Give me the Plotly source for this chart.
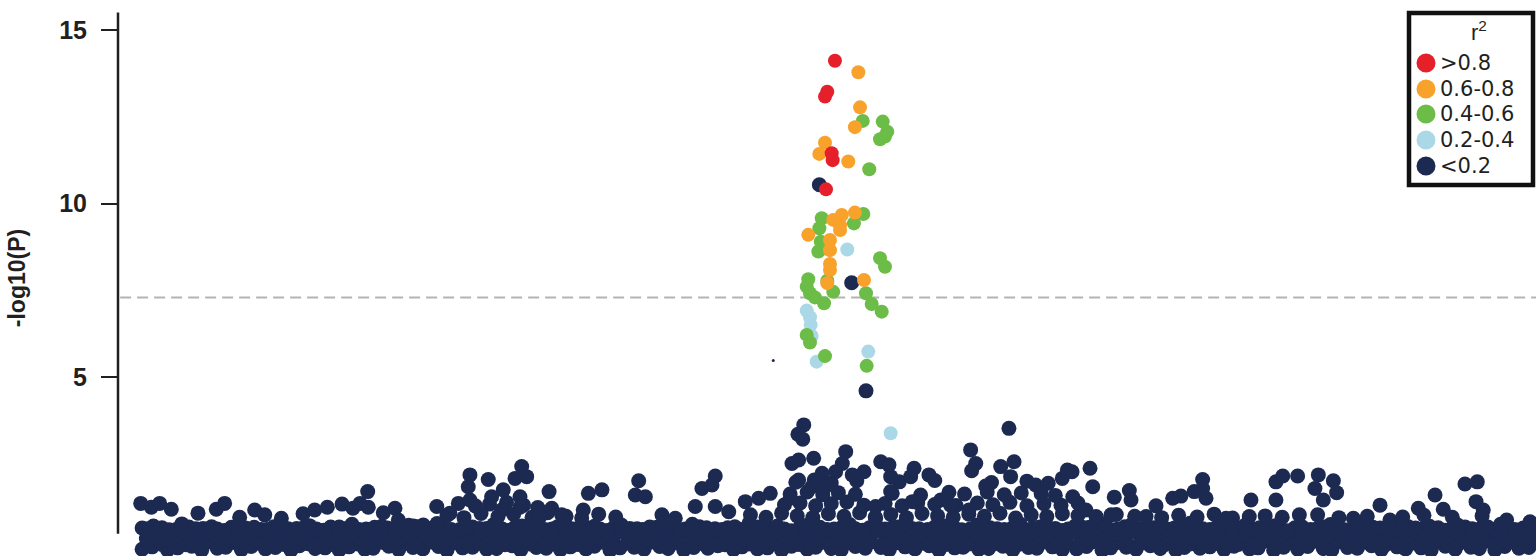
import plotly.graph_objects as go

# Position (kb within the plotted region) and -log10(P) values
# --- r2 < 0.2 : dense background band, row by row ---
navy_band_low = [(17,.05),(24,.12),(35,.03),(42,.09),(52,.14),(59,.02),(70,.08),(76,.11),(87,.04),(94,.13),(104,.06),(111,.10),(122,.02),(128,.15),(139,.07),(146,.09),(156,.03),(163,.12),(174,.05),(180,.08),(191,.14),(198,.04),(208,.10),(215,.06),(226,.13),(232,.02),(243,.09),(250,.11),(260,.05),(267,.07),(278,.15),(284,.03),(295,.10),(302,.08),(312,.04),(319,.12),(330,.06),(336,.14),(347,.02),(354,.09),(364,.11),(371,.05),(382,.13),(388,.07),(399,.03),(406,.10),(416,.08),(423,.15),(434,.04),(440,.12),(451,.06),(458,.09),(468,.02),(475,.14),(486,.05),(492,.11),(503,.07),(510,.03),(520,.13),(527,.08),(538,.10),(544,.04),(555,.12),(562,.06),(572,.15),(579,.02),(590,.09),(596,.11),(607,.05),(614,.07),(624,.14),(631,.03),(642,.10),(648,.08),(659,.12),(666,.04),(676,.06),(683,.13),(694,.02),(700,.09),(711,.11),(718,.05),(728,.15),(735,.07),(746,.03),(752,.10),(763,.08),(770,.12),(780,.04),(787,.14),(798,.06),(804,.09),(815,.02),(822,.11),(832,.05),(839,.13),(850,.07),(856,.03),(867,.10),(874,.08),(884,.15),(891,.04),(902,.12),(908,.06),(919,.09),(926,.02),(936,.14),(943,.05),(954,.11),(960,.07),(971,.03),(978,.13),(988,.08),(995,.10)]
navy_band_low2 = [(21,.22),(31,.19),(39,.25),(48,.18),(57,.23),(65,.26),(74,.20),(83,.24),(91,.18),(100,.22),(108,.25),(117,.19),(126,.23),(134,.21),(143,.26),(152,.18),(160,.24),(169,.20),(178,.22),(186,.25),(195,.19),(204,.23),(212,.18),(221,.26),(229,.21),(238,.24),(247,.19),(255,.22),(264,.25),(273,.18),(281,.23),(290,.20),(298,.26),(307,.21),(316,.24),(324,.19),(333,.22),(342,.25),(350,.18),(359,.23),(367,.20),(376,.26),(385,.21),(393,.24),(402,.19),(411,.22),(419,.25),(428,.18),(436,.23),(445,.20),(454,.26),(462,.21),(471,.24),(480,.19),(488,.22),(497,.25),(505,.18),(514,.23),(523,.20),(531,.26),(540,.21),(549,.24),(557,.19),(566,.22),(574,.25),(583,.18),(592,.23),(600,.20),(609,.26),(618,.21),(626,.24),(635,.19),(643,.22),(652,.25),(661,.18),(669,.23),(678,.20),(687,.26),(695,.21),(704,.24),(712,.19),(721,.22),(730,.25),(738,.18),(747,.23),(756,.20),(764,.26),(773,.21),(781,.24),(790,.19),(799,.22),(807,.25),(816,.18),(825,.23),(833,.20),(842,.26),(850,.21),(859,.24),(868,.19),(876,.22),(885,.25),(894,.18),(902,.23),(911,.20),(919,.26),(928,.21),(937,.24),(945,.19),(954,.22),(963,.25),(971,.18),(980,.23),(988,.20),(997,.26)]
navy_band_mid = [(20,.36),(29,.31),(41,.42),(50,.29),(61,.38),(69,.44),(80,.33),(91,.40),(99,.30),(110,.37),(121,.43),(129,.32),(140,.39),(151,.28),(159,.41),(170,.35),(181,.45),(189,.31),(200,.38),(211,.34),(219,.42),(230,.29),(241,.40),(249,.36),(260,.44),(271,.32),(279,.39),(290,.30),(301,.43),(309,.35),(320,.41),(331,.28),(339,.37),(350,.45),(361,.33),(369,.40),(380,.31),(391,.38),(399,.42),(410,.29),(421,.36),(429,.44),(440,.34),(451,.39),(459,.30),(470,.41),(481,.37),(489,.45),(500,.32),(511,.40),(519,.35),(530,.43),(541,.28),(549,.38),(560,.42),(571,.31),(579,.39),(590,.36),(601,.44),(609,.33),(620,.40),(631,.29),(639,.37),(650,.43),(661,.34),(669,.41),(680,.30),(691,.38),(699,.45),(710,.32),(721,.39),(729,.35),(740,.42),(751,.28),(759,.37),(770,.44),(781,.33),(789,.40),(800,.31),(811,.38),(819,.43),(830,.36),(841,.29),(849,.41),(860,.34),(871,.45),(879,.32),(890,.39),(901,.37),(909,.42),(920,.30),(931,.38),(939,.44),(950,.33),(961,.40),(969,.35),(980,.43),(991,.31),(998,.38)]
navy_band_mid2 = [(24,.52),(34,.49),(45,.55),(55,.50),(64,.53),(75,.48),(85,.56),(95,.51),(104,.54),(115,.49),(125,.52),(134,.55),(145,.48),(155,.53),(165,.50),(174,.56),(185,.51),(195,.54),(204,.49),(215,.52),(225,.55),(234,.48),(245,.53),(255,.50),(264,.56),(275,.51),(285,.54),(295,.49),(304,.52),(315,.55),(325,.48),(334,.53),(345,.50),(355,.56),(365,.51),(374,.54),(385,.49),(395,.52),(404,.55),(415,.48),(425,.53),(434,.50),(445,.56),(455,.51),(465,.54),(474,.49),(485,.52),(495,.55),(504,.48),(515,.53),(525,.50),(534,.56),(545,.51),(555,.54),(565,.49),(574,.52),(585,.55),(595,.48),(604,.53),(615,.50),(625,.56),(634,.51),(645,.54),(655,.49),(665,.52),(674,.55),(685,.48),(695,.53),(704,.50),(715,.56),(725,.51),(734,.54),(745,.49),(755,.52),(765,.55),(774,.48),(785,.53),(795,.50),(804,.56),(815,.51),(825,.54),(834,.49),(845,.52),(855,.55),(865,.48),(874,.53),(885,.50),(895,.56),(904,.51),(915,.54),(925,.49),(934,.52),(945,.55),(955,.48),(965,.53),(974,.50),(985,.56),(995,.51)]
navy_band_mid3 = [(21,.64),(31,.67),(41,.62),(50,.69),(60,.65),(70,.63),(80,.68),(90,.66),(101,.62),(110,.70),(120,.64),(131,.67),(140,.63),(150,.69),(161,.65),(170,.62),(181,.68),(190,.66),(200,.63),(211,.70),(220,.64),(230,.67),(241,.62),(250,.69),(260,.65),(271,.63),(280,.68),(290,.66),(301,.62),(310,.70),(320,.64),(331,.67),(340,.63),(350,.69),(361,.65),(370,.62),(380,.68),(391,.66),(400,.63),(410,.70),(421,.64),(430,.67),(440,.62),(451,.69),(460,.65),(470,.63),(481,.68),(490,.66),(500,.62),(511,.70),(520,.64),(530,.67),(541,.63),(550,.69),(560,.65),(571,.62),(580,.68),(590,.66),(601,.63),(610,.70),(620,.64),(631,.67),(640,.62),(650,.69),(661,.65),(670,.63),(680,.68),(691,.66),(700,.62),(710,.70),(721,.64),(730,.67),(740,.63),(751,.69),(760,.65),(770,.62),(781,.68),(790,.66),(800,.63),(811,.70),(820,.64),(830,.67),(841,.62),(850,.69),(860,.65),(871,.63),(880,.68),(890,.66),(901,.62),(910,.70),(920,.64),(931,.67),(940,.63),(950,.69),(961,.65),(970,.62),(980,.68),(991,.66)]
navy_band_top = [(17,.66),(25,.72),(36,.61),(45,.78),(55,.64),(66,.70),(75,.59),(85,.75),(96,.68),(105,.62),(115,.80),(126,.65),(135,.73),(145,.60),(156,.69),(165,.77),(175,.63),(186,.71),(195,.58),(205,.74),(216,.67),(225,.79),(235,.62),(246,.70),(255,.65),(265,.76),(276,.60),(285,.72),(295,.68),(306,.63),(315,.78),(325,.66),(336,.71),(345,.59),(355,.75),(366,.64),(375,.69),(385,.73),(396,.61),(405,.77),(415,.67),(426,.62),(435,.70),(445,.80),(456,.65),(465,.72),(475,.58),(486,.74),(495,.68),(505,.63),(516,.76),(525,.60),(535,.71),(546,.66),(555,.79),(565,.64),(576,.69),(585,.73),(595,.61),(606,.75),(615,.67),(625,.62),(636,.78),(645,.65),(655,.70),(666,.59),(675,.72),(685,.68),(696,.74),(705,.63),(715,.77),(726,.60),(735,.71),(745,.66),(756,.80),(765,.64),(775,.69),(786,.62),(795,.75),(805,.67),(816,.73),(825,.58),(835,.70),(846,.65),(855,.76),(865,.61),(876,.72),(885,.68),(895,.63),(906,.79),(915,.66),(925,.71),(936,.60),(945,.74),(955,.64),(966,.69),(975,.77),(985,.62),(996,.70)]
navy_band_upper = [(232,1.02),(244,0.96),(256,1.08),(268,0.99),(279,1.05),(292,0.97),(303,1.10),(316,1.00),(327,0.95),(339,1.06),(351,0.98),(446,1.04),(457,0.97),(468,1.09),(479,1.01),(490,0.96),(501,1.07),(512,1.00),(523,1.10),(534,0.98),(545,1.05),(556,0.96),(567,1.08),(578,1.01),(589,0.97),(600,1.06),(611,1.00),(622,1.09),(633,0.95),(644,1.04),(655,0.99),(666,1.07),(677,1.02),(690,0.97),(704,1.05),(717,1.00),(736,0.96),(748,1.03),(761,0.98),(773,1.06),(786,0.95),(809,1.01),(821,0.97),(846,1.04),(861,0.96),(881,1.00),(906,0.98),(921,1.03),(941,0.97),(962,1.01),
                   (252,1.30),(262,1.35),(274,1.40),(286,1.32),(296,1.25),
                   (470,1.33),(481,1.38),(492,1.30),(503,1.36),(514,1.41),(526,1.32),(541,1.37),(553,1.30),(564,1.39),(576,1.34),(591,1.31),(606,1.38),(617,1.33),(629,1.40),(641,1.30),(653,1.36),(665,1.32),(677,1.38),
                   (474,1.64),(486,1.70),(497,1.62),(508,1.68),(520,1.63),(546,1.66),(566,1.61),(586,1.69),(597,1.64),(613,1.70),(625,1.62),(637,1.67),(651,1.65),(661,1.60),
                   (478,1.98),(491,2.04),(503,1.96),(521,2.02),(551,1.99),(576,2.03),(616,1.97),(641,2.01),(656,1.95)]
# --- r2 < 0.2 : individual points standing above the band ---
navy_peaks = [(16,1.37),(23.5,1.26),(29.4,1.37),(37.6,1.20),(56.4,1.09),(69.3,1.20),(75.2,1.37),(85.8,0.97),(96.4,1.18),(103.5,1.04),(115.2,0.94),(130.5,1.07),(138.7,1.18),(147.6,1.26),(158.0,1.35),(165.7,1.23),
              (170.7,1.37),(176.1,1.71),(176.5,1.26),(187.1,1.10),(195.3,1.23),(197.7,0.89),(208.3,0.72),(215.3,0.75),(224.8,1.28),(234.1,1.09),(240.0,1.37),(248.2,2.19),(247.0,1.85),(248.2,1.47),(261.1,2.06),(263.5,1.56),(271.7,1.76),(270.6,1.18),(280.0,2.09),(284.7,2.43),(288.2,2.14),(283.5,1.56),(283.5,1.26),(297.6,0.99),(304.0,1.71),(305.9,1.23),(312.9,1.04),(328.1,1.18),(331.7,1.66),
              (341.3,1.76),(367.2,2.02),(364.8,1.61),(371.9,1.56),(383.6,1.04),(393.0,0.94),(407.1,1.28),(411.8,1.80),(421.2,2.16),(418.9,1.90),(421.2,1.28),(430.7,1.13),(442.4,1.42),(451.8,1.52),(460.0,1.66),(474.1,1.52),(475.3,2.52),(480.0,2.62),(483.6,3.63),(479.5,3.36),(482.9,3.22),(490.6,2.67),(480.0,2.04),(496.5,2.24),(498.8,1.85),(489.4,1.85),
              (513.2,2.86),(510.8,2.52),(506.1,2.28),(517.8,2.19),(526.1,2.28),(537.9,2.57),(543.7,2.48),(544.9,2.14),(544.9,1.71),(561.4,2.38),(571.9,2.19),(559.0,2.14),(560.2,1.42),(580.2,1.47),(587.2,1.32),(534.3,1.28),(534.3,0.94),(601.3,2.91),(604.9,2.52),(602.0,2.31),(628.3,3.53),(622.5,2.43),(631.9,2.57),(611.9,1.87),(629.5,2.14),(647.2,1.90),(665.9,2.09),(669.5,2.33),(600.1,1.18),
              (672.8,2.28),(685.5,2.38),(687.4,1.85),(673.3,1.56),(702.6,1.55),(713.2,1.74),(714.4,1.47),(700.3,1.04),(732.0,1.30),(743.8,1.52),(749.6,1.58),(759.0,1.71),(764.9,2.06),(764.9,1.80),(767.3,1.52),(781.4,0.94),(799.0,1.47),(797.8,0.99),(816.6,1.99),(821.4,2.16),(831.9,2.16),(816.6,1.47),(833.1,1.04),(682.6,1.18),(689.7,0.99),(725.0,0.99),
              (846.5,2.19),(857.1,2.02),(844.1,1.80),(859.4,1.68),(850.0,1.47),(871.2,0.94),(890.0,1.32),(897.0,0.89),(917.0,1.23),(928.8,1.61),(934.6,1.20),(949.9,1.93),(958.6,1.99),(957.7,1.42),(962.8,1.18),(979.3,0.89),(995.8,0.84),
              (494.6,10.54),(517.4,7.72),(527.5,4.61)]
navy_tiny = [(462.1,5.48)]
# --- r2 0.2-0.4 ---
lightblue_pts = [(514.3,8.68),(485.7,6.92),(488.0,6.73),(488.5,6.51),(489.2,6.19),(492.7,5.45),(529.1,5.74),(544.9,3.39)]
# --- r2 0.4-0.6 ---
green_pts = [(525.2,12.38),(539.3,12.36),(542.5,12.07),(537.4,11.85),(540.9,11.93),(529.8,10.99),(496.3,9.58),(494.6,9.29),(525.6,9.70),(519.0,9.43),(495.6,8.90),(493.9,8.62),(499.3,8.71),(537.4,8.43),(540.9,8.18),(486.8,7.82),(485.7,7.61),(488.0,7.42),(500.2,7.78),(504.4,7.46),(497.9,7.13),(527.5,7.42),(531.5,7.11),(538.6,6.89),(485.7,6.22),(488.0,6.00),(498.6,5.61),(528.0,5.33),(491.5,7.30)]
# --- r2 0.6-0.8 ---
orange_pts = [(522.1,13.78),(523.3,12.77),(519.7,12.20),(498.6,11.75),(494.6,11.43),(515.0,11.21),(519.7,9.74),(510.4,9.67),(504.4,9.53),(509.2,9.38),(509.2,9.24),(486.8,9.10),(502.1,8.95),(502.1,8.66),(502.1,8.26),(502.1,8.09),(526.1,7.80),(500.2,7.71)]
# --- r2 > 0.8 ---
red_pts = [(505.6,14.11),(500.2,13.22),(498.6,13.08),(503.3,11.45),(504.0,11.25),(499.3,10.41)]

sig_threshold = 7.3
y_ticks = [5, 10, 15]
legend_title = "r<sup>2</sup>"
legend_labels = [">0.8", "0.6-0.8", "0.4-0.6", "0.2-0.4", "<0.2"]
colors = {">0.8": "#e5202a", "0.6-0.8": "#f8a22c", "0.4-0.6": "#6bbd47",
          "0.2-0.4": "#abd8e6", "<0.2": "#1c2951"}

FONT = "Liberation Sans, Arial, Helvetica, sans-serif"
LEG_FONT = "DejaVu Sans, Liberation Sans, Arial, sans-serif"
INK = "#231f20"
DOT = 14
W, H, L = 1536, 556, 118

def split(pairs):
    return [p[0] for p in pairs], [p[1] for p in pairs]

def px_x(px):  # pixel -> paper x
    return (px - L) / (W - L)

def px_y(py):  # pixel -> paper y
    return 1 - py / H

fig = go.Figure()

def add_points(pairs, color, size=DOT):
    x, y = split(pairs)
    fig.add_trace(go.Scatter(x=x, y=y, mode="markers", showlegend=False,
                             hoverinfo="skip",
                             marker=dict(size=size, color=color, line=dict(width=0))))

navy = colors["<0.2"]
for rows in (navy_band_low, navy_band_low2, navy_band_mid, navy_band_mid2,
             navy_band_mid3, navy_band_top, navy_band_upper, navy_peaks):
    add_points(rows, navy, size=15)
add_points(navy_tiny, navy, size=3)
add_points(lightblue_pts, colors["0.2-0.4"])
add_points(green_pts, colors["0.4-0.6"])
add_points(orange_pts, colors["0.6-0.8"])
add_points(red_pts, colors[">0.8"])

# y axis line and significance threshold
fig.add_shape(type="line", xref="paper", yref="y", x0=0, x1=0, y0=0.5, y1=15.5,
              line=dict(color=INK, width=2.5))
fig.add_shape(type="line", xref="paper", yref="y", x0=0.0015, x1=1,
              y0=sig_threshold, y1=sig_threshold, layer="below",
              line=dict(color="#b4b4b4", width=2, dash="11px,6px"))

# r2 legend box
fig.add_shape(type="rect", xref="paper", yref="paper",
              x0=px_x(1409), x1=px_x(1533), y0=px_y(185), y1=px_y(13),
              line=dict(color="#111111", width=4.5), fillcolor="white")
fig.add_annotation(xref="paper", yref="paper", x=px_x(1479), y=px_y(31),
                   text=legend_title, showarrow=False, xanchor="center", yanchor="middle",
                   font=dict(family=FONT, size=22, color=INK))
item_y = [63, 89, 114, 140, 166]
for lab, yy in zip(legend_labels, item_y):
    fig.add_shape(type="circle", xref="paper", yref="paper",
                  xsizemode="pixel", ysizemode="pixel",
                  xanchor=px_x(1426), yanchor=px_y(yy),
                  x0=-9.5, x1=9.5, y0=-9.5, y1=9.5,
                  line=dict(width=0), fillcolor=colors[lab])
    fig.add_annotation(xref="paper", yref="paper", x=px_x(1438), y=px_y(yy),
                       text=lab, showarrow=False, xanchor="left", yanchor="middle",
                       font=dict(family=LEG_FONT, size=21, color=INK))

fig.update_layout(
    width=W, height=H,
    margin=dict(l=L, r=0, t=0, b=0),
    paper_bgcolor="white", plot_bgcolor="white",
    showlegend=False,
    font=dict(family=FONT, color=INK),
    xaxis=dict(visible=False, range=[0, 1000]),
    yaxis=dict(range=[-0.144, 15.86], tickvals=y_ticks, ticks="outside",
               ticklen=16, tickwidth=2, tickcolor=INK,
               showline=False, showgrid=False, zeroline=False,
               ticklabelstandoff=9,
               tickfont=dict(family=FONT, size=25, color=INK, weight="bold"),
               title=dict(text="-log10(P)", standoff=27,
                          font=dict(family=FONT, size=23, color=INK, weight="bold"))),
)

fig.write_html("out.html", config={"displayModeBar": False},
               post_script="document.body.style.margin='0';document.body.style.overflow='hidden';")
